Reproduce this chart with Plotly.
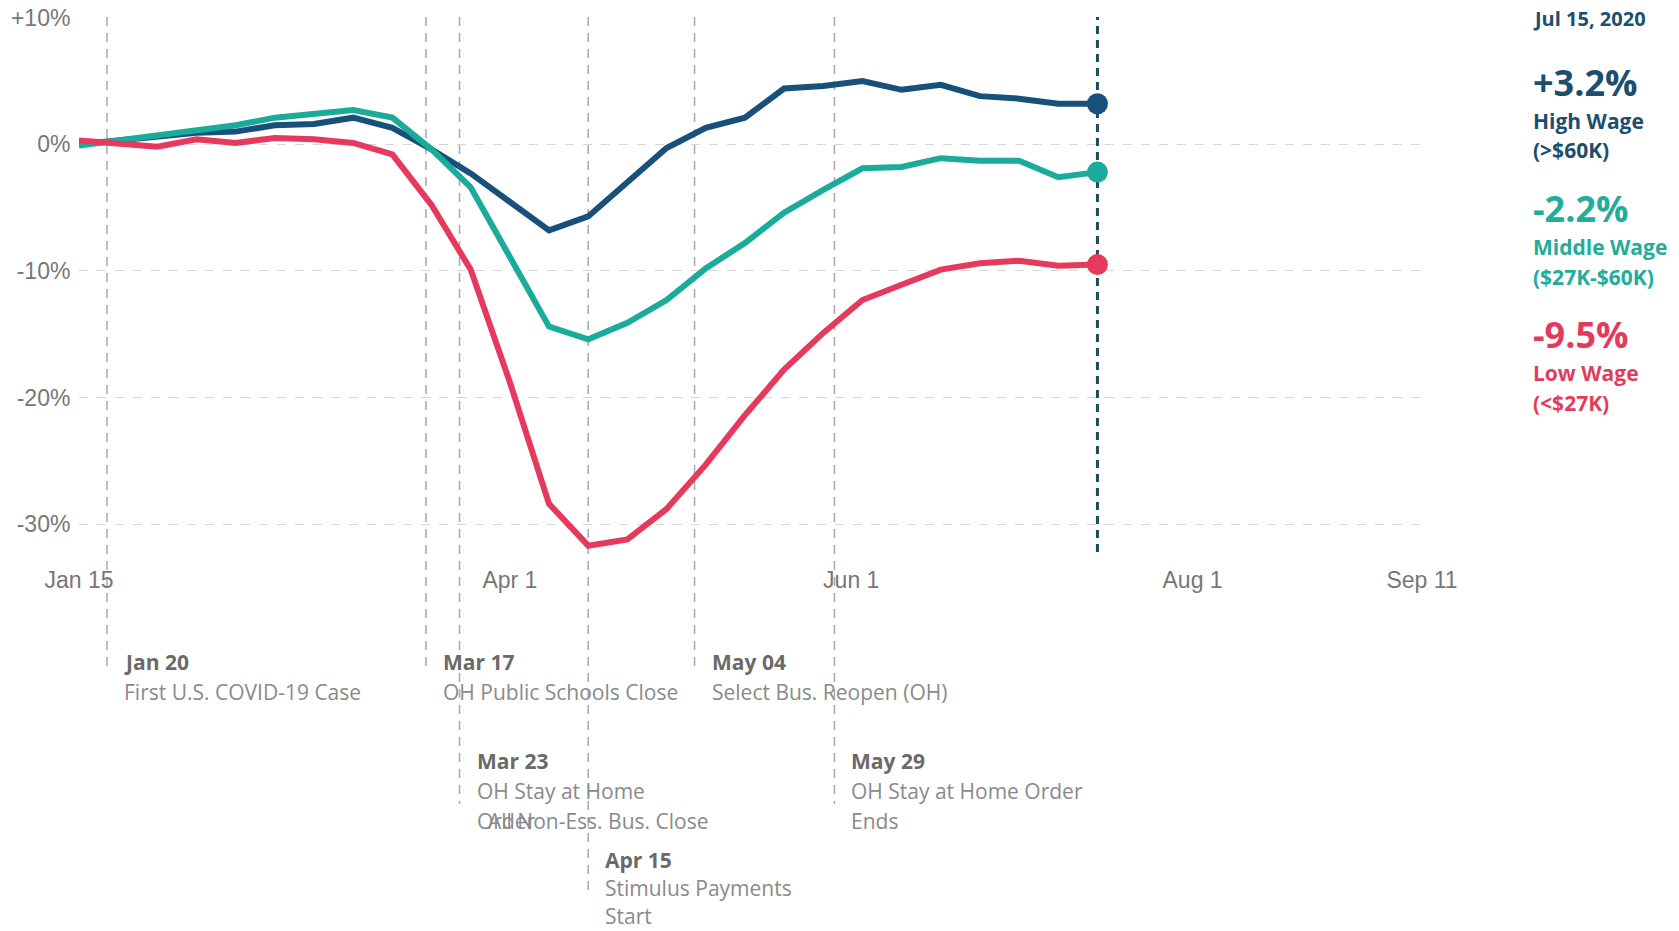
import pandas as pd
import plotly.graph_objects as go

# ---------------- data ----------------
dates = pd.date_range("2020-01-15", "2020-07-15", freq="7D").strftime("%Y-%m-%d").tolist()

high_wage = [0.0, 0.3, 0.5, 0.9, 1.0, 1.5, 1.6, 2.1, 1.3, -0.4, -2.3, -4.6, -6.8, -5.7,
             -3.0, -0.3, 1.3, 2.1, 4.4, 4.6, 5.0, 4.3, 4.7, 3.8, 3.6, 3.2, 3.2]
middle_wage = [-0.1, 0.3, 0.6, 1.0, 1.5, 2.1, 2.4, 2.7, 2.1, -0.4, -3.4, -8.9, -14.4, -15.4,
               -14.1, -12.3, -9.8, -7.8, -5.4, -3.6, -1.9, -1.8, -1.1, -1.3, -1.3, -2.6, -2.2]
low_wage = [0.3, 0.0, -0.2, 0.4, 0.1, 0.5, 0.4, 0.1, -0.8, -4.8, -9.9, -18.8, -28.4, -31.7,
            -31.2, -28.8, -25.3, -21.4, -17.8, -14.9, -12.3, -11.1, -9.9, -9.4, -9.2, -9.6, -9.5]

series_values = [high_wage, middle_wage, low_wage]
series_pct = ["+3.2%", "-2.2%", "-9.5%"]
series_names = ["High Wage", "Middle Wage", "Low Wage"]
series_ranges = ["(&gt;$60K)", "($27K-$60K)", "(&lt;$27K)"]
series_colors = ["#17507a", "#1aab9b", "#e5395d"]
text_colors = ["#1c4e6e", "#22ad9b", "#e23c5c"]

y_tickvals = [10, 0, -10, -20, -30]
y_ticktext = ["+10%", "0%", "-10%", "-20%", "-30%"]
x_tickvals = ["2020-01-15", "2020-04-01", "2020-06-01", "2020-08-01", "2020-09-11"]
x_ticktext = ["Jan 15", "Apr 1", "Jun 1", "Aug 1", "Sep 11"]

as_of_date = "2020-07-15"
as_of_label = "Jul 15, 2020"

event_dates = ["2020-01-20", "2020-03-17", "2020-03-23", "2020-04-15", "2020-05-04", "2020-05-29"]
event_titles = ["Jan 20", "Mar 17", "Mar 23", "Apr 15", "May 04", "May 29"]
event_texts = [["First U.S. COVID-19 Case"], ["OH Public Schools Close"], ["OH Stay at Home", "Order"],
               ["Stimulus Payments", "Start"], ["Select Bus. Reopen (OH)"], ["OH Stay at Home Order", "Ends"]]
event_levels = [0, 0, 1, 2, 0, 1]
overlap_text = "All Non-Ess. Bus. Close"   # overprinted on the Mar 23 note in the original

# ---------------- layout geometry (pixels) ----------------
W, H = 1679, 931
L, R, T, B = 79, 1422, 17, 552


def py(p):
    return (B - p) / (B - T)


def px(p):
    return (p - L) / (R - L)


level_title_y = [662, 761, 860]
level_step = [30, 30, 28]
level_line_end = [670, 804, 896]
ANN_FONT = "Open Sans"
ANN_SIZE = 21

fig = go.Figure()

for vals, col in zip(series_values, series_colors):
    fig.add_trace(go.Scatter(x=dates, y=vals, mode="lines",
                             line=dict(color=col, width=6), hoverinfo="skip"))
for vals, col in zip(series_values, series_colors):
    fig.add_trace(go.Scatter(x=[dates[-1]], y=[vals[-1]], mode="markers",
                             marker=dict(color=col, size=21), hoverinfo="skip"))

shapes = []
annotations = []

# event lines and notes
for d, t, lines, lev in zip(event_dates, event_titles, event_texts, event_levels):
    shapes.append(dict(type="line", xref="x", yref="paper", x0=d, x1=d,
                       y0=1, y1=py(level_line_end[lev]),
                       line=dict(color="#a8a8a8", width=1.5, dash="9px,7px"), layer="below"))
    ty = level_title_y[lev]
    annotations.append(dict(x=d, y=py(ty), xref="x", yref="paper", text="<b>" + t + "</b>",
                            xanchor="left", yanchor="middle", xshift=15, showarrow=False,
                            font=dict(family=ANN_FONT, size=ANN_SIZE, color="#6a6a6a")))
    for i, ln in enumerate(lines):
        annotations.append(dict(x=d, y=py(ty + level_step[lev] * (i + 1)), xref="x", yref="paper",
                                text=ln, xanchor="left", yanchor="middle", xshift=15,
                                showarrow=False,
                                font=dict(family=ANN_FONT, size=ANN_SIZE, color="#8a8a8a")))

annotations.append(dict(x=event_dates[2], y=py(level_title_y[1] + 2 * level_step[1]), xref="x", yref="paper",
                        text=overlap_text, xanchor="left", yanchor="middle", xshift=26,
                        showarrow=False, font=dict(family=ANN_FONT, size=ANN_SIZE, color="#8a8a8a")))

# as-of line
shapes.append(dict(type="line", xref="x", yref="paper", x0=as_of_date, x1=as_of_date, y0=0, y1=1,
                   line=dict(color="#1d4a5c", width=3, dash="8px,6px"), layer="below"))

# right-hand legend text
LX = px(1531)
annotations.append(dict(x=LX, y=py(18), xref="paper", yref="paper", text="<b>" + as_of_label + "</b>",
                        xanchor="left", yanchor="middle", showarrow=False,
                        font=dict(family=ANN_FONT, size=20, color="#1c4e6e")))
blocks_y = [(82, 121, 150), (209, 247, 277), (334, 373, 403)]
for (y1, y2, y3), pct, nm, rg, tc in zip(blocks_y, series_pct, series_names, series_ranges, text_colors):
    annotations.append(dict(x=LX, y=py(y1), xref="paper", yref="paper", text="<b>" + pct + "</b>",
                            xanchor="left", yanchor="middle", showarrow=False,
                            font=dict(family=ANN_FONT, size=36, color=tc)))
    annotations.append(dict(x=LX, y=py(y2), xref="paper", yref="paper", text="<b>" + nm + "</b>",
                            xanchor="left", yanchor="middle", showarrow=False,
                            font=dict(family=ANN_FONT, size=21, color=tc)))
    annotations.append(dict(x=LX, y=py(y3), xref="paper", yref="paper", text="<b>" + rg + "</b>",
                            xanchor="left", yanchor="middle", showarrow=False,
                            font=dict(family=ANN_FONT, size=21, color=tc)))

fig.update_layout(
    width=W, height=H,
    margin=dict(l=L, r=W - R, t=T, b=H - B, pad=0, autoexpand=False),
    paper_bgcolor="white", plot_bgcolor="white",
    showlegend=False,
    shapes=shapes, annotations=annotations,
    xaxis=dict(type="date", range=["2020-01-15", "2020-09-11"], tickvals=x_tickvals, ticktext=x_ticktext,
               showgrid=False, zeroline=False, showline=False, automargin=False,
               ticks="outside", ticklen=7, tickcolor="rgba(0,0,0,0)",
               tickfont=dict(family="Liberation Sans, Arial", size=23, color="#777777")),
    yaxis=dict(range=[-32.2, 10.05], tickvals=y_tickvals, ticktext=y_ticktext,
               showgrid=True, gridcolor="#d6d6d6", gridwidth=1, griddash="dash",
               zeroline=False, showline=False, automargin=False,
               ticks="outside", ticklen=3, tickcolor="rgba(0,0,0,0)",
               tickfont=dict(family="Liberation Sans, Arial", size=23, color="#777777")),
)

fig.write_html("out.html", config={"displayModeBar": False},
               post_script="document.body.style.margin='0';")
